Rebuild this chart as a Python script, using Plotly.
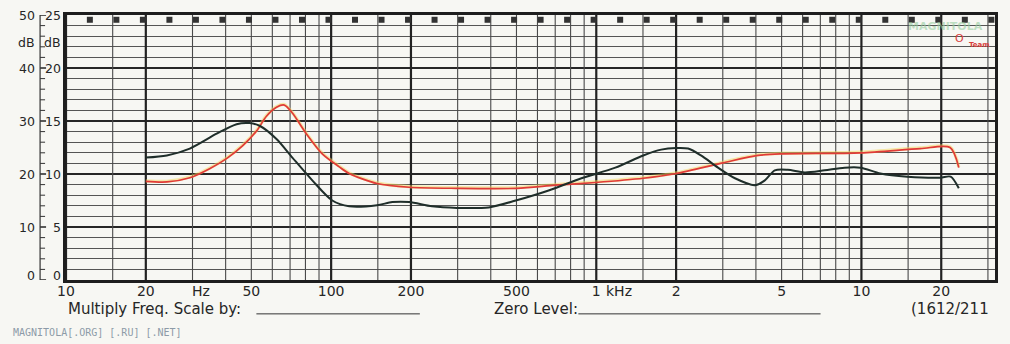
import math
import plotly.graph_objects as go

# ---------------- data ----------------
black_freq = [20, 24, 29.3, 37, 44, 49.2, 53.7, 62.2, 71.4, 84.9, 101, 117, 149, 170, 197, 240, 298, 393,
              497, 661, 879, 1180, 1503, 1757, 2000, 2220, 2483, 2878, 3334, 3962, 4322, 4712, 5274, 6110,
              7260, 8634, 9924, 11800, 14900, 19800, 21700, 23300]
black_db = [23.1, 23.5, 24.8, 27.6, 29.4, 29.6, 29.1, 26.6, 23.1, 18.8, 15.0, 13.9, 14.1, 14.7, 14.7, 13.9,
            13.6, 13.7, 15.0, 16.9, 19.2, 21.2, 23.5, 24.6, 24.9, 24.8, 23.5, 21.2, 19.2, 17.9, 18.8, 20.7,
            20.8, 20.3, 20.7, 21.2, 21.2, 20.1, 19.5, 19.3, 19.5, 17.3]

red_freq = [20, 24, 29.3, 34.8, 40.3, 46.3, 52.3, 57, 62.2, 66.6, 71.4, 80.6, 92.6, 107, 117, 149, 197, 298,
            500, 702, 992, 1503, 2000, 3006, 4068, 5052, 9924, 16670, 21600, 23300]
red_db = [18.6, 18.5, 19.3, 21.0, 22.9, 25.3, 28.1, 30.9, 32.6, 33.0, 31.5, 27.6, 23.8, 21.4, 20.1, 18.2,
          17.5, 17.3, 17.3, 17.9, 18.4, 19.2, 20.1, 22.1, 23.5, 23.8, 24.0, 24.8, 25.0, 21.2]

x_tick_vals = [10, 20, 50, 100, 200, 500, 1000, 2000, 5000, 10000, 20000]
x_tick_text = ["10", "20", "50", "100", "200", "500", "1", "2", "5", "10", "20"]

y_left_vals = [0, 10, 20, 30, 40, 50]
y_left_text = ["0", "10", "20", "30", "40", "50"]
y_right_text = ["0", "5", "10", "15", "20", "25"]

thick_lines = [10, 20, 100, 200, 1000, 2000, 10000, 20000]
thin_mult = [1.5, 3, 4, 5, 6, 7, 8, 9]
decades = [10, 100, 1000, 10000]

PAPER = "#f7f7f3"
INK = "#262626"
FONT = "DejaVu Sans"

fig = go.Figure()

# vertical grid lines (thin then thick)
thin_x, thin_y = [], []
for d in decades:
    for m in thin_mult:
        f = d * m
        if f < 32000:
            thin_x += [f, f, None]
            thin_y += [0, 50, None]
fig.add_trace(go.Scatter(x=thin_x, y=thin_y, mode="lines", line=dict(color="#4a4a4a", width=1.1),
                         hoverinfo="skip", showlegend=False))
thick_x, thick_y = [], []
for f in thick_lines:
    thick_x += [f, f, None]
    thick_y += [0, 50, None]
fig.add_trace(go.Scatter(x=thick_x, y=thick_y, mode="lines", line=dict(color="#222222", width=2.2),
                         hoverinfo="skip", showlegend=False))

# paper sprocket marks along the top edge
mark_x = [10 ** (1.09 + 0.1 * k) for k in range(35) if 1.09 + 0.1 * k < 4.5]
fig.add_trace(go.Scatter(x=mark_x, y=[49.1] * len(mark_x), mode="markers",
                         marker=dict(symbol="square", size=6, color="#333333"),
                         cliponaxis=False, hoverinfo="skip", showlegend=False))

# response curves
fig.add_trace(go.Scatter(x=red_freq, y=[v + 0.12 for v in red_db], mode="lines",
                         line=dict(color="rgba(245,215,90,0.5)", width=3.2, shape="spline", smoothing=0.8),
                         hoverinfo="skip", showlegend=False))
fig.add_trace(go.Scatter(x=red_freq, y=red_db, mode="lines", name="red",
                         line=dict(color="#e03a38", width=1.7, shape="spline", smoothing=0.8),
                         showlegend=False))
fig.add_trace(go.Scatter(x=black_freq, y=black_db, mode="lines", name="black",
                         line=dict(color="#1f2e2a", width=2.0, shape="spline", smoothing=0.8),
                         showlegend=False))

# ---------------- layout ----------------
L, R, T, B = 66, 12, 14, 64
W, H = 1010, 344
pw = W - L - R
ph = H - T - B


def px_x(px):
    return (px - L) / pw


def px_y(py):
    return (H - B - py) / ph


shapes = []
annotations = []

# left ruler with ticks every 2 dB
rx = px_x(40)
shapes.append(dict(type="line", xref="paper", yref="y", x0=rx, x1=rx, y0=0, y1=50,
                   line=dict(color="#333333", width=1.2)))
for v in range(0, 51, 2):
    shapes.append(dict(type="line", xref="paper", yref="y", x0=rx, x1=px_x(46 if v % 10 == 0 else 45),
                       y0=v, y1=v, line=dict(color="#333333", width=1.6 if v % 10 == 0 else 1)))

for v, lt, rt in zip(y_left_vals, y_left_text, y_right_text):
    shift = 5 if v == 0 else 0
    annotations.append(dict(xref="paper", yref="y", x=px_x(37), y=v, text=lt, showarrow=False, yshift=shift,
                            xanchor="right", yanchor="middle", font=dict(family=FONT, size=12.5, color=INK)))
    annotations.append(dict(xref="paper", yref="y", x=px_x(63), y=v, text=rt, showarrow=False, yshift=shift,
                            xanchor="right", yanchor="middle", font=dict(family=FONT, size=12.5, color=INK)))
for xx in (37, 63):
    annotations.append(dict(xref="paper", yref="y", x=px_x(xx), y=44.8, text="dB", showarrow=False,
                            xanchor="right", yanchor="middle", font=dict(family=FONT, size=12.5, color=INK)))

# unit labels on the frequency axis
annotations.append(dict(xref="paper", yref="paper", x=px_x(201), y=px_y(291), text="Hz", showarrow=False,
                        xanchor="center", yanchor="middle", font=dict(family=FONT, size=14, color=INK)))
annotations.append(dict(xref="paper", yref="paper", x=px_x(606), y=px_y(291), text="kHz", showarrow=False,
                        xanchor="left", yanchor="middle", font=dict(family=FONT, size=14, color=INK)))

# footer texts
FOOT_Y = 309
annotations.append(dict(xref="paper", yref="paper", x=px_x(66), y=px_y(FOOT_Y),
                        text="Multiply Freq. Scale by:", showarrow=False, xanchor="left", yanchor="middle",
                        font=dict(family=FONT, size=15, color=INK)))
shapes.append(dict(type="line", xref="paper", yref="paper", x0=px_x(257), x1=px_x(421),
                   y0=px_y(314), y1=px_y(314), line=dict(color="#333333", width=1)))
annotations.append(dict(xref="paper", yref="paper", x=px_x(493), y=px_y(FOOT_Y),
                        text="Zero Level:", showarrow=False, xanchor="left", yanchor="middle",
                        font=dict(family=FONT, size=15, color=INK)))
shapes.append(dict(type="line", xref="paper", yref="paper", x0=px_x(580), x1=px_x(823),
                   y0=px_y(314), y1=px_y(314), line=dict(color="#333333", width=1)))
annotations.append(dict(xref="paper", yref="paper", x=px_x(994), y=px_y(FOOT_Y),
                        text="(1612/211", showarrow=False, xanchor="right", yanchor="middle",
                        font=dict(family=FONT, size=15, color=INK)))

# watermarks
annotations.append(dict(xref="paper", yref="paper", x=px_x(11), y=px_y(333),
                        text="MAGNITOLA[.ORG] [.RU] [.NET]", showarrow=False, xanchor="left", yanchor="middle",
                        font=dict(family="DejaVu Sans Mono", size=10, color="#8d9ba8")))
annotations.append(dict(xref="paper", yref="paper", x=px_x(948), y=px_y(26),
                        text="<b>MAGNITOLA</b>", showarrow=False, xanchor="center", yanchor="middle",
                        font=dict(family=FONT, size=11, color="rgba(150,205,160,0.6)")))
annotations.append(dict(xref="paper", yref="paper", x=px_x(962), y=px_y(38),
                        text="O", showarrow=False, xanchor="center", yanchor="middle",
                        font=dict(family=FONT, size=11, color="#d8403a")))
annotations.append(dict(xref="paper", yref="paper", x=px_x(982), y=px_y(44),
                        text="<b>Team</b>", showarrow=False, xanchor="center", yanchor="middle",
                        font=dict(family=FONT, size=7, color="#d8403a")))

fig.update_layout(
    width=W, height=H,
    margin=dict(l=L, r=R, t=T, b=B, pad=0),
    paper_bgcolor=PAPER, plot_bgcolor=PAPER,
    showlegend=False,
    shapes=shapes, annotations=annotations,
    xaxis=dict(type="log", range=[1, math.log10(31900)], showgrid=False, zeroline=False,
               tickmode="array", tickvals=x_tick_vals, ticktext=x_tick_text, ticks="",
               ticklabelstandoff=-4,
               tickfont=dict(family=FONT, size=14, color=INK),
               showline=True, linecolor="#1e1e1e", linewidth=2.5, mirror=True),
    yaxis=dict(range=[0, 50], tickmode="array", tickvals=y_left_vals, showticklabels=False, ticks="",
               showgrid=True, gridcolor="#262626", gridwidth=2.2, zeroline=False,
               minor=dict(dtick=2, tick0=0, showgrid=True, gridcolor="#555555", gridwidth=1, ticks=""),
               showline=True, linecolor="#1e1e1e", linewidth=2.5, mirror=True),
)

fig.write_html("out.html")
